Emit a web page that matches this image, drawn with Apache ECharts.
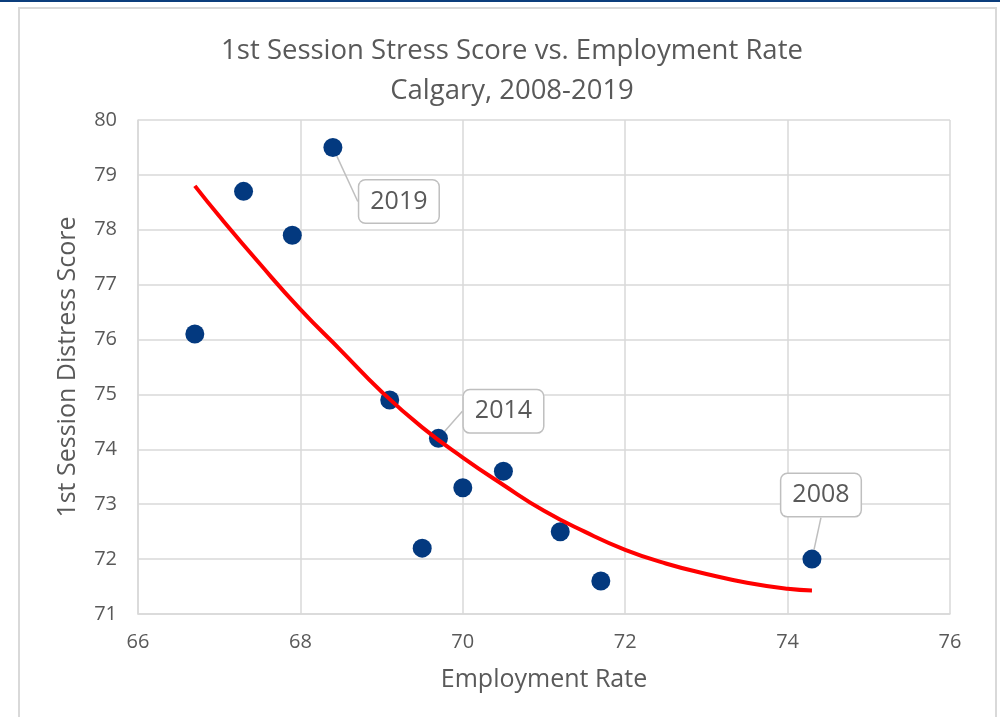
<!DOCTYPE html>
<html>
<head>
<meta charset="utf-8">
<script src="https://cdn.jsdelivr.net/npm/echarts@6/dist/echarts.min.js"></script>
<style>
    html, body { margin: 0; padding: 0; background: #fff; }
    body { border-top: 2px solid #0b3d7c; width: 1000px; height: 715px; overflow: hidden; position: relative; }
    #frame { position: absolute; left: 18px; top: 5px; width: 975px; height: 720px; border: 2px solid #d9d9d9; }
    #chart { position: absolute; left: 0; top: -2px; width: 1000px; height: 717px; }
</style>
</head>
<body>
<div id="frame"></div>
<div id="chart"></div>
<script>
    // employment rate (x) vs 1st session distress score (y), 2008..2019
    var years = ['2008', '2009', '2010', '2011', '2012', '2013', '2014', '2015', '2016', '2017', '2018', '2019'];
    var employment = [74.3, 71.7, 71.2, 70.5, 70.0, 69.5, 69.7, 69.1, 66.7, 67.9, 67.3, 68.4];
    var distress = [72.0, 71.6, 72.5, 73.6, 73.3, 72.2, 74.2, 74.9, 76.1, 77.9, 78.7, 79.5];
    var labelled = { '2008': [9, -64], '2014': [65, -27], '2019': [66, 54] };

    // trendline
    var trendX = [66.7, 67.0, 67.5, 68.0, 68.5, 69.0, 69.5, 70.0, 70.5, 71.0, 71.5, 72.0, 72.5, 73.0, 73.5, 74.0, 74.3];
    var trendY = [78.8, 78.25, 77.38, 76.55, 75.8, 75.05, 74.4, 73.85, 73.35, 72.88, 72.5, 72.17, 71.92, 71.73, 71.57, 71.46, 71.43];

    var xTicks = [66, 68, 70, 72, 74, 76];
    var yTicks = [71, 72, 73, 74, 75, 76, 77, 78, 79, 80];

    var textColor = '#595959';
    var gridColor = '#d9d9d9';
    var font = 'Open Sans';

    var points = employment.map(function(x, i) {
        var item = { value: [x, distress[i]], year: years[i] };
        if (labelled[years[i]]) {
            item.label = { show: true };
        }
        return item;
    });

    var trend = trendX.map(function(x, i) { return [x, trendY[i]]; });

    var chart = echarts.init(document.getElementById('chart'));
    chart.setOption({
        animation: false,
        title: {
            text: '1st Session Stress Score vs. Employment Rate\nCalgary, 2008-2019',
            left: 507,
            top: 26,
            textAlign: 'center',
            textStyle: { fontFamily: font, fontSize: 27.5, fontWeight: 'normal', color: textColor, lineHeight: 40 }
        },
        grid: { left: 138, right: 50, top: 120, bottom: 103 },
        xAxis: {
            type: 'value',
            min: xTicks[0],
            max: xTicks[xTicks.length - 1],
            interval: 2,
            name: 'Employment Rate',
            nameLocation: 'middle',
            nameGap: 53,
            nameTextStyle: { fontFamily: font, fontSize: 25, color: textColor },
            axisLine: { show: true, lineStyle: { color: gridColor, width: 1.5 } },
            axisTick: { show: false },
            axisLabel: { fontFamily: font, fontSize: 20, color: textColor, margin: 18 },
            splitLine: { show: true, lineStyle: { color: gridColor, width: 1.5 } }
        },
        yAxis: {
            type: 'value',
            min: yTicks[0],
            max: yTicks[yTicks.length - 1],
            interval: 1,
            name: '1st Session Distress Score',
            nameLocation: 'middle',
            nameGap: 58,
            nameTextStyle: { fontFamily: font, fontSize: 25, color: textColor },
            axisLine: { show: true, lineStyle: { color: gridColor, width: 1.5 } },
            axisTick: { show: false },
            axisLabel: { fontFamily: font, fontSize: 20, color: textColor, margin: 21 },
            splitLine: { show: true, lineStyle: { color: gridColor, width: 1.5 } }
        },
        series: [
            {
                type: 'line',
                data: trend,
                smooth: true,
                showSymbol: false,
                lineStyle: { color: '#ff0000', width: 4 },
                z: 3
            },
            {
                type: 'scatter',
                data: points,
                symbolSize: 19,
                itemStyle: { color: '#03397f', opacity: 1 },
                z: 2,
                label: {
                    show: false,
                    position: 'inside',
                    formatter: function(p) { return p.data.year; },
                    fontFamily: font,
                    fontSize: 25,
                    color: textColor,
                    backgroundColor: '#fff',
                    borderColor: '#bfbfbf',
                    borderWidth: 1.5,
                    borderRadius: 6,
                    padding: [9, 11, 8, 11]
                },
                labelLine: { show: true, lineStyle: { color: '#bfbfbf', width: 1.5 } },
                labelLayout: function(p) {
                    var off = labelled[years[p.dataIndex]];
                    if (!off) return {};
                    return { dx: off[0], dy: off[1] };
                }
            }
        ]
    });
</script>
</body>
</html>
